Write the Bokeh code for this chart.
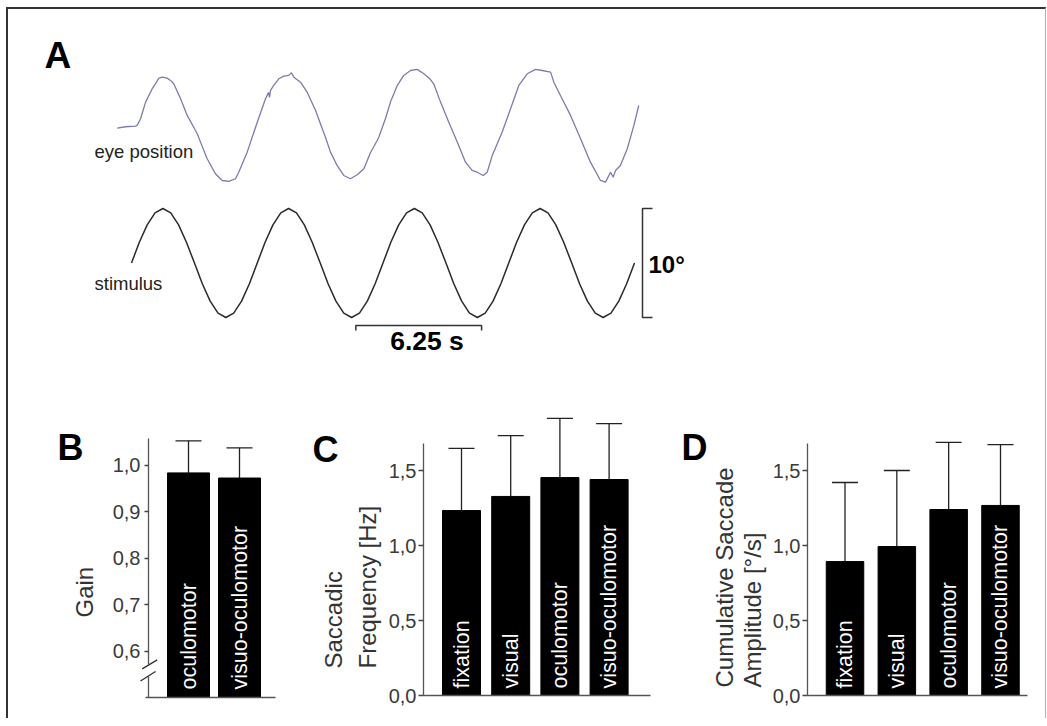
from math import pi
from bokeh.plotting import figure
from bokeh.layouts import column, row
from bokeh.models import Range1d, Label, FixedTicker, Whisker, TeeHead, ColumnDataSource
from bokeh.embed import file_html
from bokeh.resources import INLINE
from bokeh.core.properties import value

# ---------------- data ----------------
stim_t = [0.00, 0.39, 0.78, 1.17, 1.56, 1.95, 2.34, 2.73, 3.13, 3.52, 3.91, 4.30, 4.69, 5.08, 5.47, 5.86,
          6.25, 6.64, 7.03, 7.42, 7.81, 8.20, 8.59, 8.98, 9.38, 9.77, 10.16, 10.55, 10.94, 11.33, 11.72, 12.11,
          12.50, 12.89, 13.28, 13.67, 14.06, 14.45, 14.84, 15.23, 15.63, 16.02, 16.41, 16.80, 17.19, 17.58, 17.97, 18.36,
          18.75, 19.14, 19.53, 19.92, 20.31, 20.70, 21.09, 21.48, 21.88, 22.27, 22.66, 23.05, 23.44, 23.83, 24.22, 24.61,
          25.00]
stim_deg = [0, 1.9, 3.5, 4.6, 5.0, 4.6, 3.5, 1.9, 0, -1.9, -3.5, -4.6, -5.0, -4.6, -3.5, -1.9,
            0, 1.9, 3.5, 4.6, 5.0, 4.6, 3.5, 1.9, 0, -1.9, -3.5, -4.6, -5.0, -4.6, -3.5, -1.9,
            0, 1.9, 3.5, 4.6, 5.0, 4.6, 3.5, 1.9, 0, -1.9, -3.5, -4.6, -5.0, -4.6, -3.5, -1.9,
            0, 1.9, 3.5, 4.6, 5.0, 4.6, 3.5, 1.9, 0, -1.9, -3.5, -4.6, -5.0, -4.6, -3.5, -1.9,
            0]

eye_t = [-0.71, -0.30, 0.20, 0.28, 0.45, 0.70, 1.03, 1.19, 1.36, 1.53, 1.77, 1.94, 2.10, 2.44, 2.77,
         3.18, 3.27, 3.43, 3.76, 4.17, 4.51, 4.84, 5.17, 5.33, 5.75, 6.25, 6.66, 6.81, 6.86, 6.91,
         7.07, 7.32, 7.57, 7.82, 7.95, 8.07, 8.40, 8.73, 9.15, 9.48, 9.64, 9.89, 10.22, 10.55, 10.88,
         11.22, 11.55, 11.88, 12.21, 12.29, 12.62, 12.87, 13.21, 13.53, 13.87, 14.20, 14.53, 14.83, 15.02, 15.36,
         15.77, 16.19, 16.60, 16.93, 17.18, 17.48, 17.68, 17.93, 18.42, 18.84, 19.25, 19.67, 20.08, 20.41, 20.83,
         20.99, 21.32, 21.82, 22.32, 22.81, 23.31, 23.56, 23.81, 23.94, 24.06, 24.30, 24.64, 24.97, 25.21]
eye_deg = [-0.23, -0.10, -0.05, 0.02, 0.63, 2.16, 3.39, 3.84, 4.36, 4.45, 4.36, 4.15, 3.84, 2.47, 0.94,
           -0.44, -0.74, -1.51, -3.04, -4.41, -5.03, -5.12, -4.87, -4.27, -2.43, 0.32, 2.47, 3.05, 2.59, 3.23,
           3.69, 4.30, 4.54, 4.61, 4.85, 4.45, 3.99, 3.07, 1.39, -0.28, -1.06, -2.43, -3.65, -4.57, -4.87,
           -4.50, -3.95, -2.46, -1.36, -1.06, 0.63, 2.16, 3.69, 4.61, 5.06, 5.16, 4.76, 4.30, 3.84, 2.16,
           0.32, -1.51, -3.35, -4.11, -4.27, -4.57, -4.27, -2.73, -0.60, 1.55, 3.69, 4.76, 5.16, 5.06, 4.91,
           3.99, 2.77, 0.94, -1.20, -3.35, -5.03, -5.18, -4.27, -4.72, -4.11, -3.65, -2.12, 0.02, 1.85]

gain_conditions = ["oculomotor", "visuo-oculomotor"]
gain_mean = [0.983, 0.972]
gain_sd = [0.069, 0.065]
gain_ticks = [0.6, 0.7, 0.8, 0.9, 1.0]
gain_tick_labels = ["0,6", "0,7", "0,8", "0,9", "1,0"]

sacc_conditions = ["fixation", "visual", "oculomotor", "visuo-oculomotor"]
freq_mean = [1.233, 1.327, 1.453, 1.440]
freq_sd = [0.414, 0.406, 0.394, 0.373]
amp_mean = [0.893, 0.993, 1.240, 1.267]
amp_sd = [0.527, 0.507, 0.447, 0.406]
cd_ticks = [0.0, 0.5, 1.0, 1.5]
cd_tick_labels = ["0,0", "0,5", "1,0", "1,5"]

TIME_BAR_S = 6.25
ANGLE_BAR_DEG = 10
EYE_OFFSET = 12.6

# ---------------- style / layout ----------------
FONT = "Liberation Sans"
INK = "#222222"
AXIS = "#555555"
TICKTXT = "#3a3a3a"
BASELINE_FIX = 0.35          # Label alphabetic-baseline correction (fraction of font size)

OX, OY = 8, 9                # page position of the first child (after margin + border)
TOTAL_W = 1037
A_H = 401
ROW_TOP, ROW_BOT = OY + A_H, 718

# ---------------- panel A ----------------
PX_PER_S, T0_PX = 20.12, 131.0
PX_PER_DEG, DEG0_PY = 10.9, 262.5
A_X = ((OX - T0_PX) / PX_PER_S, (OX + TOTAL_W - T0_PX) / PX_PER_S)
A_Y = ((DEG0_PY - OY - A_H) / PX_PER_DEG, (DEG0_PY - OY) / PX_PER_DEG)


def ax(px):
    return (px - T0_PX) / PX_PER_S


def ay(py):
    return (DEG0_PY - py) / PX_PER_DEG


def hlabel(fig, fx, fy, px, base_py, text, size, bold=False, align="left", color="black"):
    fig.add_layout(Label(x=fx(px), y=fy(base_py - BASELINE_FIX * size), text=text, text_font=FONT,
                         text_font_style="bold" if bold else "normal", text_font_size=f"{size}px",
                         text_color=color, text_align=align, text_baseline="alphabetic"))


pa = figure(width=TOTAL_W, height=A_H, x_range=Range1d(*A_X), y_range=Range1d(*A_Y),
            x_axis_type=None, y_axis_type=None, toolbar_location=None,
            output_backend="svg", min_border=0, title=None)
pa.outline_line_color = None

pa.line(stim_t, stim_deg, line_color="#2a2a2a", line_width=1.5)
pa.line(eye_t, [d + EYE_OFFSET for d in eye_deg], line_color="#7c7ca8", line_width=1.3)

# time scale bar
t0 = 11.15
yb, yt = ay(325), ay(330)
pa.line([t0, t0, t0 + TIME_BAR_S, t0 + TIME_BAR_S], [yt, yb, yb, yt], line_color="#333333", line_width=1.5)
# angle scale bar
tv, tt = ax(642), ax(652)
pa.line([tt, tv, tv, tt], [ANGLE_BAR_DEG / 2, ANGLE_BAR_DEG / 2, -ANGLE_BAR_DEG / 2, -ANGLE_BAR_DEG / 2],
        line_color="#333333", line_width=1.5)

hlabel(pa, ax, ay, 44, 68, "A", 37, bold=True)
hlabel(pa, ax, ay, 94, 157, "eye position", 18.5, color=INK)
hlabel(pa, ax, ay, 94, 289, "stimulus", 18.5, color=INK)
hlabel(pa, ax, ay, 426.5, 350, "6.25 s", 26.5, bold=True, align="center")
hlabel(pa, ax, ay, 648, 272, "10°", 24, bold=True)

# ---------------- bar panels (frame = whole canvas, axes at fixed locations) ----------------


def make_geom(cx0, cx1, c1, unit, base, base_py, pxu, bar_px):
    return dict(cx0=cx0, cx1=cx1, unit=unit, pxu=pxu,
                x0=1 - (c1 - cx0) / unit, x1=1 + (cx1 - c1) / unit,
                y0=base - (ROW_BOT - base_py) / pxu, y1=base + (base_py - ROW_TOP) / pxu,
                bw=bar_px / unit)


def gx(g, px):
    return g["x0"] + (px - g["cx0"]) / g["unit"]


def gy(g, py):
    return g["y0"] + (ROW_BOT - py) / g["pxu"]


GB = make_geom(OX, 300, 188, 51.0, 0.5, 697, 465.0, 42)
GC = make_geom(300, 680, 461, 49.2, 0.0, 695, 150.0, 38)
GD = make_geom(680, OX + TOTAL_W, 844.5, 51.83, 0.0, 695, 150.0, 37.5)


def bar_panel(g, cats, means, sds, ticks, tick_labels, base, axis_px, axis_top_py, xaxis_px,
              letter, letter_xy, titles, label_start_py, tick_out=5, standoff=2):
    p = figure(width=g["cx1"] - g["cx0"], height=ROW_BOT - ROW_TOP,
               x_range=Range1d(g["x0"], g["x1"]), y_range=Range1d(g["y0"], g["y1"]),
               toolbar_location=None, output_backend="svg", title=None,
               min_border=0, min_border_left=0, min_border_right=0,
               min_border_top=0, min_border_bottom=0)
    p.outline_line_color = None
    p.xgrid.visible = False
    p.ygrid.visible = False

    xs = [i + 1 for i in range(len(cats))]
    p.vbar(x=xs, top=means, bottom=base, width=g["bw"], fill_color="black", line_color="black")

    src = ColumnDataSource(dict(x=xs, lower=means, upper=[m + s for m, s in zip(means, sds)]))
    p.add_layout(Whisker(source=src, base="x", lower="lower", upper="upper",
                         upper_head=TeeHead(size=26, line_color=INK, line_width=1.3), lower_head=None,
                         line_color=INK, line_width=1.3))

    p.text(x=xs, y=[gy(g, label_start_py)] * len(xs), text=cats, angle=pi / 2,
           text_align="left", text_baseline="middle", text_color="white",
           text_font=value(FONT), text_font_size="21.5px")

    ya = p.yaxis[0]
    ya.fixed_location = gx(g, axis_px)
    ya.bounds = (base, gy(g, axis_top_py))
    ya.ticker = FixedTicker(ticks=ticks)
    ya.major_label_overrides = {t: s for t, s in zip(ticks, tick_labels)}
    ya.major_label_text_font = FONT
    ya.major_label_text_font_size = "20px"
    ya.major_label_text_color = TICKTXT
    ya.major_label_standoff = standoff
    ya.major_tick_out = tick_out
    ya.major_tick_in = 0
    ya.major_tick_line_color = "#444444"
    ya.major_tick_line_width = 1.5
    ya.minor_tick_line_color = None
    ya.axis_line_color = AXIS
    ya.axis_line_width = 1.3

    xa = p.xaxis[0]
    xa.fixed_location = base
    xa.bounds = (gx(g, xaxis_px[0]), gx(g, xaxis_px[1]))
    xa.ticker = FixedTicker(ticks=[])
    xa.major_tick_line_color = None
    xa.minor_tick_line_color = None
    xa.major_label_text_font_size = "0px"
    xa.axis_line_color = AXIS
    xa.axis_line_width = 1.3

    hlabel(p, lambda v: gx(g, v), lambda v: gy(g, v), letter_xy[0], letter_xy[1], letter, 36, bold=True)
    for txt, cx, sy in titles:
        p.add_layout(Label(x=gx(g, cx), y=gy(g, sy), text=txt, angle=pi / 2, text_font=FONT,
                           text_font_size="24px", text_color="#333333",
                           text_align="left", text_baseline="middle"))
    return p


pb = bar_panel(GB, gain_conditions, gain_mean, gain_sd, gain_ticks, gain_tick_labels, 0.5,
               148, 438, (145, 275), "B", (57, 460), [("Gain", 84, 617)], 689, tick_out=4, standoff=4)
# axis break on the Gain axis
axis_x = gx(GB, 148)
pb.yaxis[0].bounds = (gy(GB, 664), gy(GB, 438))
pb.segment(x0=[axis_x], y0=[0.5], x1=[axis_x], y1=[gy(GB, 676)], line_color=AXIS, line_width=1.3)
pb.segment(x0=[gx(GB, 141.7), gx(GB, 140)], y0=[gy(GB, 668.3), gy(GB, 680.5)],
           x1=[gx(GB, 156.7), gx(GB, 155)], y1=[gy(GB, 659.3), gy(GB, 671)],
           line_color="#333333", line_width=1.4)

pc = bar_panel(GC, sacc_conditions, freq_mean, freq_sd, cd_ticks, cd_tick_labels, 0.0,
               423, 443, (423, 650), "C", (312, 462),
               [("Saccadic", 333, 668), ("Frequency [Hz]", 367, 668)], 688)
pd = bar_panel(GD, sacc_conditions, amp_mean, amp_sd, cd_ticks, cd_tick_labels, 0.0,
               807, 443, (807, 1027), "D", (681, 460),
               [("Cumulative Saccade", 724, 687), ("Amplitude [°/s]", 752, 687)], 688)

layout = column(pa, row(pb, pc, pd), styles={"margin-left": "6px", "margin-top": "7px",
                                             "border-top": "2px solid #333333",
                                             "border-left": "2px solid #333333",
                                             "border-right": "1px solid #b0b0b0"})

with open("out.html", "w") as f:
    f.write(file_html(layout, INLINE))
